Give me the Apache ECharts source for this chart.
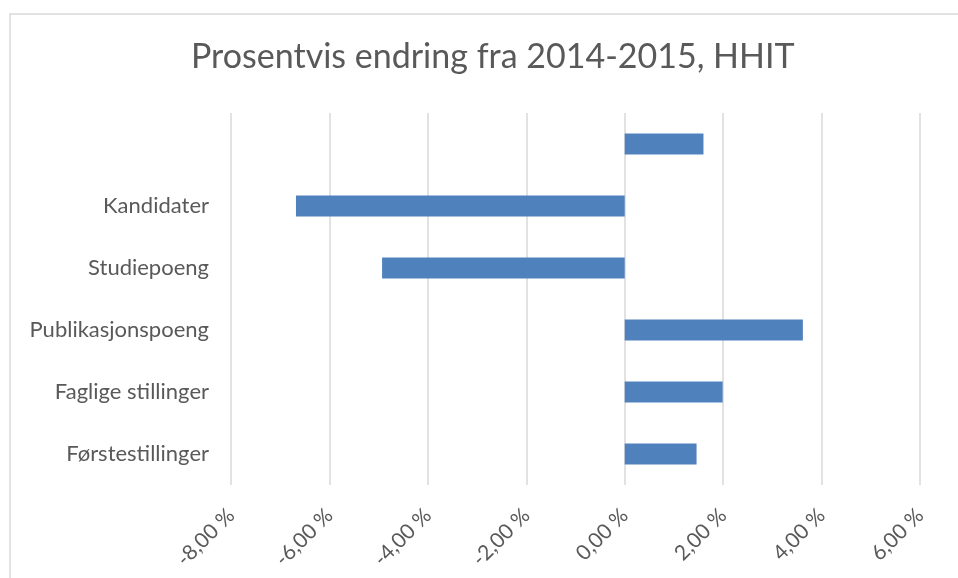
<!DOCTYPE html>
<html>
<head>
<meta charset="utf-8">
<script src="https://cdn.jsdelivr.net/npm/echarts@6/dist/echarts.min.js"></script>
<style>
  html, body { margin: 0; padding: 0; background: #fff; }
  #main { width: 958px; height: 578px; }
</style>
</head>
<body>
<div id="main"></div>
<script>
// kategorier nedenfra og opp
const categories = ['Førstestillinger', 'Faglige stillinger', 'Publikasjonspoeng', 'Studiepoeng', 'Kandidater', ''];
const values = [0.0146, 0.0199, 0.0362, -0.0493, -0.0668, 0.0160];
const axisMin = -0.08;
const axisMax = 0.06;
const axisStep = 0.02;

const chart = echarts.init(document.getElementById('main'), null, { renderer: 'canvas' });

const fontFamily = 'Lato, "Open Sans", sans-serif';

const option = {
  backgroundColor: '#ffffff',
  animation: false,
  title: {
    text: 'Prosentvis endring fra 2014-2015, HHIT',
    left: 191,
    top: 40,
    padding: 0,
    textStyle: { fontFamily: fontFamily, fontSize: 34, fontWeight: 'normal', color: '#595959' }
  },
  // ramme rundt diagrammet
  graphic: [{
    type: 'rect',
    shape: { x: 10, y: 14, width: 960, height: 580 },
    style: { fill: 'none', stroke: '#d9d9d9', lineWidth: 1.5 },
    silent: true
  }],
  grid: { left: 231, right: 38, top: 113, bottom: 93, containLabel: false },
  xAxis: {
    type: 'value',
    min: axisMin,
    max: axisMax,
    interval: axisStep,
    axisLine: { show: false },
    axisTick: { show: false },
    splitLine: { lineStyle: { color: '#d9d9d9', width: 1.5 } },
    axisLabel: {
      rotate: 45,
      margin: 27,
      fontFamily: fontFamily,
      fontSize: 21,
      color: '#595959',
      formatter: v => (v * 100).toFixed(2).replace('.', ',') + ' %'
    }
  },
  yAxis: {
    type: 'category',
    data: categories,
    axisLine: { show: false },
    axisTick: { show: false },
    axisLabel: { margin: 22, fontFamily: fontFamily, fontSize: 22, color: '#595959' }
  },
  series: [{
    type: 'bar',
    data: values,
    barWidth: 21,
    itemStyle: { color: '#4f81bd' }
  }]
};

chart.setOption(option);
</script>
</body>
</html>
